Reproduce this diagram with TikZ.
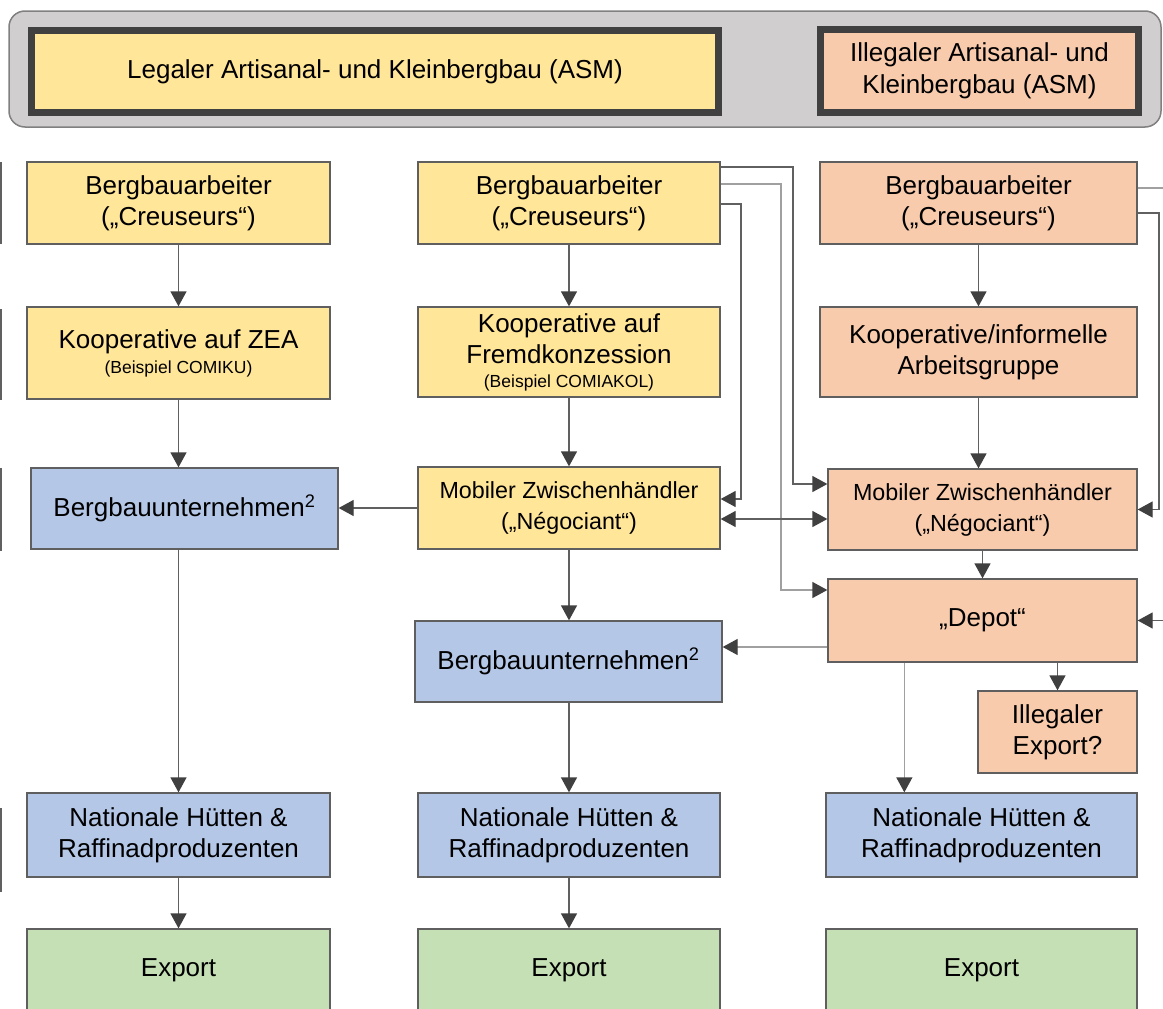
\documentclass[tikz,border=0pt]{standalone}
\usepackage{fontspec}
\setmainfont{Liberation Sans}
\usepackage{tikz}
\usetikzlibrary{arrows.meta}
\definecolor{legal}{HTML}{FFE699}
\definecolor{illegal}{HTML}{F8CBAD}
\definecolor{firm}{HTML}{B4C7E7}
\definecolor{expo}{HTML}{C5E0B4}
\definecolor{hdr}{HTML}{D0CECE}
\definecolor{rim}{HTML}{5F5F5F}
\definecolor{wire}{HTML}{606060}
\definecolor{wirelight}{HTML}{A0A0A0}
\definecolor{tip}{HTML}{404040}

\begin{document}
\begin{tikzpicture}[x=1pt,y=-1pt,
  box/.style={draw=rim,line width=1.3pt,inner sep=0pt,align=center,minimum height=82,font=\fontsize{26}{31}\selectfont},
  lg/.style={box,fill=legal},il/.style={box,fill=illegal},co/.style={box,fill=firm},ex/.style={box,fill=expo},
  head/.style={draw=tip,line width=7pt,inner sep=0pt,align=center,minimum height=82,font=\fontsize{26}{32}\selectfont},
  link/.style={draw=wire,line width=1.3pt,-{Triangle[length=15pt,width=16pt,color=tip]}},
  linklight/.style={link,draw=wirelight}]
\clip (0,0) rectangle (1163,1009);
\fill[white] (0,0) rectangle (1163,1009);
\draw[fill=hdr,draw=gray,line width=1.5pt,rounded corners=16pt] (9,11) rectangle (1161,127);
\node[head,fill=legal,minimum width=687] (hl) at (375,71.5) {Legaler Artisanal- und Kleinbergbau (ASM)};
\node[head,fill=illegal,minimum width=318,minimum height=83] (hi) at (979.5,71) {Illegaler Artisanal- und\\Kleinbergbau (ASM)};

\foreach \a/\b in {162/244,309/400,468/551,808/892}
  \draw[wire,line width=1.3pt] (1,\a) -- (1,\b);

\node[lg,minimum width=303] (b1) at (178.5,203) {Bergbauarbeiter\\(„Creuseurs“)};
\node[lg,minimum width=303,minimum height=92] (k1) at (178.5,353) {Kooperative auf ZEA\\[-6pt]{\fontsize{17.5}{20}\selectfont (Beispiel COMIKU)}};
\node[co,minimum width=307,minimum height=81] (u1) at (184.5,508.5) {Bergbauunternehmen\textsuperscript{2}};
\node[co,minimum width=303,minimum height=84] (n1) at (178.5,835) {Nationale Hütten \&\\Raffinadproduzenten};
\node[ex,minimum width=303] (e1) at (178.5,970) {Export};

\node[lg,minimum width=302] (b2) at (569,203) {Bergbauarbeiter\\(„Creuseurs“)};
\node[lg,minimum width=302,minimum height=90] (k2) at (569,352) {Kooperative auf\\Fremdkonzession\\[-7pt]{\fontsize{17.5}{20}\selectfont (Beispiel COMIAKOL)}};
\node[lg,minimum width=302,font=\fontsize{23.3}{31}\selectfont] (m2) at (569,508) {Mobiler Zwischenhändler\\(„Négociant“)};
\node[co,minimum width=307,minimum height=81] (u2) at (568.5,661.5) {Bergbauunternehmen\textsuperscript{2}};
\node[co,minimum width=302,minimum height=84] (n2) at (569,835) {Nationale Hütten \&\\Raffinadproduzenten};
\node[ex,minimum width=302] (e2) at (569,970) {Export};

\node[il,minimum width=317] (b3) at (978.5,203) {Bergbauarbeiter\\(„Creuseurs“)};
\node[il,minimum width=317,minimum height=90] (k3) at (978.5,352) {Kooperative/informelle\\Arbeitsgruppe};
\node[il,minimum width=309,minimum height=81,font=\fontsize{23.3}{31}\selectfont] (m3) at (982.5,509.5) {Mobiler Zwischenhändler\\(„Négociant“)};
\node[il,minimum width=309,minimum height=83] (d3) at (982.5,620.5) {„Depot“};
\node[il,minimum width=159] (x3) at (1057.5,732) {Illegaler\\Export?};
\node[co,minimum width=311,minimum height=84] (n3) at (981.5,835) {Nationale Hütten \&\\Raffinadproduzenten};
\node[ex,minimum width=311] (e3) at (981.5,970) {Export};

\draw[link] (b1) -- (k1);
\draw[link] (k1.south) -- (k1.south |- u1.north);
\draw[link] (n1.north |- u1.south) -- (n1.north);
\draw[link] (n1) -- (e1);
\draw[link] (m2.west) -- (m2.west -| u1.east);

\draw[link] (b2) -- (k2);
\draw[link] (k2) -- (m2);
\draw[link] (m2.south) -- (m2.south |- u2.north);
\draw[link] (u2.south) -- (u2.south -| n2.north) -- (n2.north);
\draw[link] (n2) -- (e2);
\draw[link] ([yshift=36]b2.east) -- (793,167) |- ([yshift=25.5]m3.west);
\draw[linklight] ([yshift=19]b2.east) -- (781,184) |- ([yshift=30.5]d3.west);
\draw[link] ([yshift=-1]b2.east) -- (741,204) |- ([yshift=9]m2.east);
\draw[link,{Triangle[length=15pt,width=16pt,color=tip]}-{Triangle[length=15pt,width=16pt,color=tip]}] ([yshift=-11]m2.east) -- ([yshift=-11]m2.east -| m3.west);

\draw[link] (b3.south -| k3.north) -- (k3.north);
\draw[link] (k3.south) -- (k3.south |- m3.north);
\draw[link] (m3) -- (d3);
\draw[link] (x3.north |- d3.south) -- (x3.north);
\draw[linklight] ([xshift=77]d3.south west) -- ([xshift=77]d3.south west |- n3.north);
\draw[linklight] ([yshift=-26.5]d3.west) -- ([yshift=-26.5]d3.west -| u2.east);

\coordinate (r1) at (1170,188);
\coordinate (r2) at (1170,620.5);
\draw[wirelight,line width=1.3pt] ([yshift=15]b3.east) -- (r1);
\draw[link] ([yshift=-10]b3.east) -- (1159,213) |- (m3.east);
\draw[link] (r2) -- (d3.east);
\end{tikzpicture}
\end{document}
